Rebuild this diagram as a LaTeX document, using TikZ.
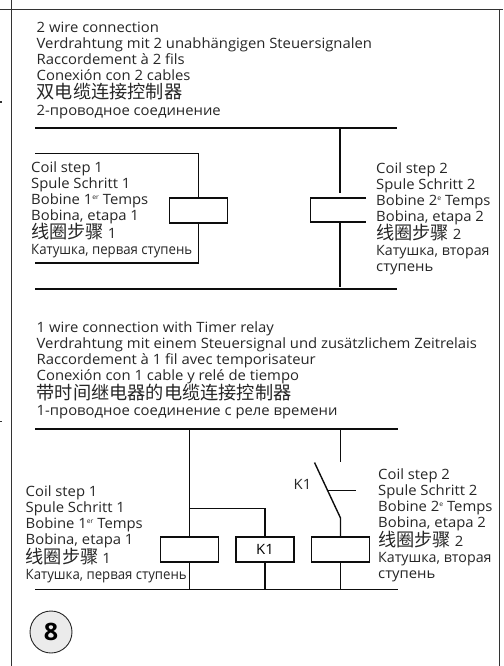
\documentclass[tikz,border=0pt]{standalone}
\usepackage{fontspec}
\setmainfont[FakeStretch=1.045]{Open Sans}
\newfontfamily\cjkfam{Noto Sans CJK SC}
\newcommand{\zh}[1]{{\fontsize{18.2}{16}\selectfont\cjkfam #1}}
\newcommand{\ssup}[1]{\raisebox{5pt}{\fontsize{6.5}{7}\selectfont #1}}
\newcommand{\tight}[1]{\scalebox{0.89}[1]{#1}}
\newcommand{\slim}[1]{\scalebox{0.96}[1]{#1}}
\lineskiplimit=-30pt
\tikzset{
  wire/.style={draw=black!95,line width=1.4pt},
  bus/.style={draw=black!95,line width=1.8pt},
  frame/.style={draw=black!80,line width=0.9pt},
  coil/.style={draw=black!95,line width=1.7pt,minimum width=58pt,minimum height=24.5pt,inner sep=0pt,outer sep=0pt},
  txt/.style={anchor=north west,inner sep=0pt,align=left,text=black!85,font=\fontsize{14.2}{16}\selectfont},
}
\begin{document}
\begin{tikzpicture}[x=1pt,y=-1pt]
\useasboundingbox (0,0) rectangle (503,666);
% frame
\coordinate (fa) at (0,9); \coordinate (fb) at (503,9);
\coordinate (fc) at (11.5,0); \coordinate (fd) at (11.5,666);
\coordinate (fe) at (499.5,9); \coordinate (ff) at (499.5,666);
\draw[frame] (fa) -- (fb); \draw[frame] (fc) -- (fd); \draw[frame] (fe) -- (ff);
\fill[black!80] (0,101.5) rectangle (1.5,103);
\fill[black!80] (0,420.5) rectangle (1.5,422);
% headings
\node[txt] (h1) at (36.5,22.3) {2 wire connection\\
Verdrahtung mit 2 unabhängigen Steuersignalen\\
Raccordement à 2 fils\\
Conexión con 2 cables\\[2pt]
\zh{双电缆连接控制器}\\[1pt]
2-проводное соединение};
\node[txt] (h2) at (36.5,321.5) {1 wire connection with Timer relay\\
Verdrahtung mit einem Steuersignal und zusätzlichem Zeitrelais\\
Raccordement à 1 fil avec temporisateur\\
Conexión con 1 cable y relé de tiempo\\[3pt]
\zh{带时间继电器的电缆连接控制器}\\
1-проводное соединение с реле времени};
% upper circuit
\coordinate (t1a) at (35,128); \coordinate (t1b) at (397,128);
\coordinate (b1a) at (35,289); \coordinate (b1b) at (397,289);
\draw[bus] (t1a) -- (t1b); \draw[bus] (b1a) -- (b1b);
\node[coil] (c1) at (198.5,210.5) {};
\coordinate (l1a) at (35,153.5); \coordinate (l1b) at (198.5,153.5);
\coordinate (l1c) at (198.5,263); \coordinate (l1d) at (35,263);
\draw[wire] (l1a) -- (l1b) -- (c1.north);
\draw[wire] (c1.south) -- (l1c) -- (l1d);
\coordinate (u2a) at (340,128); \coordinate (u2b) at (340,193);
\coordinate (u2c) at (340,222); \coordinate (u2d) at (340,287);
\draw[wire] (u2a) -- (u2b); \draw[wire] (u2c) -- (u2d);
\coordinate (o1) at (366,198); \coordinate (o2) at (310.5,198);
\coordinate (o3) at (310.5,222); \coordinate (o4) at (366,222);
\draw[wire] (o1) -- (o2) -- (o3) -- (o4);
\node[txt] (l1) at (31,161.5) {Coil step 1\\Spule Schritt 1\\Bobine 1\ssup{er} Temps\\Bobina, etapa 1\\[2pt]
\zh{线圈步骤} 1\\\tight{Катушка, первая ступень}};
\node[txt] (r1) at (376,163) {Coil step 2\\Spule Schritt 2\\Bobine 2\ssup{e} Temps\\Bobina, etapa 2\\[2pt]
\zh{线圈步骤} 2\\\slim{Катушка, вторая}\\ступень};
% lower circuit
\coordinate (t2a) at (35,429); \coordinate (t2b) at (398,429);
\coordinate (b2a) at (35,589.5); \coordinate (b2b) at (398,589.5);
\draw[bus] (t2a) -- (t2b); \draw[bus] (b2a) -- (b2b);
\node[coil] (c2) at (189.5,549.5) {};
\node[coil] (k) at (265,549.5) {\fontsize{14.2}{16}\selectfont K1};
\node[coil] (c3) at (340.5,549.5) {};
\coordinate (p1) at (189.5,429); \coordinate (p2) at (189.5,508.5);
\coordinate (p3) at (265,508.5);
\coordinate (q1) at (189.5,589.5); \coordinate (q2) at (265,589.5); \coordinate (q3) at (340.5,589.5);
\draw[wire] (p1) -- (c2.north); \draw[wire] (p2) -- (p3) -- (k.north);
\draw[wire] (c2.south) -- (q1); \draw[wire] (k.south) -- (q2); \draw[wire] (c3.south) -- (q3);
\coordinate (s1) at (340.5,429); \coordinate (s2) at (340.5,462);
\coordinate (s3) at (314.5,462.5); \coordinate (s4) at (340.5,518);
\coordinate (s5) at (328,490.5); \coordinate (s6) at (356,490.5);
\draw[wire] (s1) -- (s2); \draw[wire] (s3) -- (s4) -- (c3.north); \draw[wire] (s5) -- (s6);
\node[txt] (k1) at (293.5,479) {K1};
\node[txt] (l2) at (25.5,486) {Coil step 1\\Spule Schritt 1\\Bobine 1\ssup{er} Temps\\Bobina, etapa 1\\[3pt]
\zh{线圈步骤} 1\\\tight{Катушка, первая ступень}};
\node[txt] (r2) at (378,469) {Coil step 2\\Spule Schritt 2\\Bobine 2\ssup{e} Temps\\Bobina, etapa 2\\[3pt]
\zh{线圈步骤} 2\\\slim{Катушка, вторая}\\ступень};
% step badge
\node[circle,draw=black!85,line width=0.9pt,fill=black!8,minimum size=42pt,inner sep=0pt,font=\fontsize{24}{24}\selectfont\bfseries] (badge) at (51,632) {8};
\end{tikzpicture}
\end{document}
